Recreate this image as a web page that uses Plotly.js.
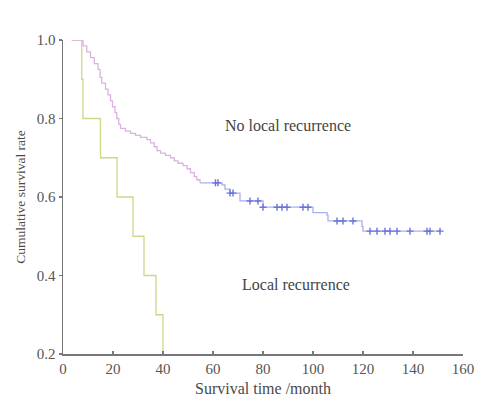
<!DOCTYPE html>
<html>
<head>
<meta charset="utf-8">
<script src="https://cdn.plot.ly/plotly-3.0.1.min.js"></script>
<style>html,body{margin:0;padding:0;background:#fff;}#chart{width:496px;height:408px;}</style>
</head>
<body>
<div id="chart"></div>
<script>
// Local recurrence group (step points)
const localT = [3.5, 7.5, 8, 15, 21.6, 28, 32.4, 37.2, 40];
const localS = [1.0, 0.9, 0.8, 0.7, 0.6, 0.5, 0.4, 0.3, 0.2];

// No local recurrence group, early (pink) part
const noLocT1 = [3.5, 8, 9.5, 11, 12.5, 14, 14.8, 15.5, 17, 18, 19, 19.8, 20.8, 21.5, 22.3, 23, 25, 27, 29, 31, 33.6, 35, 36.5, 37.6, 39, 41, 43, 44.5, 46, 48, 49.6, 51, 52.5, 53.5, 54.8];
const noLocS1 = [1.0, 0.985, 0.97, 0.955, 0.94, 0.925, 0.905, 0.89, 0.875, 0.86, 0.845, 0.83, 0.815, 0.80, 0.785, 0.775, 0.768, 0.762, 0.757, 0.752, 0.746, 0.738, 0.728, 0.718, 0.712, 0.706, 0.70, 0.692, 0.686, 0.68, 0.672, 0.662, 0.652, 0.644, 0.636];
// later (blue) part
const noLocT2 = [54.8, 63.6, 64.8, 66.8, 70.8, 80, 100, 105.6, 106, 119.6, 120, 150.8];
const noLocS2 = [0.636, 0.631, 0.620, 0.610, 0.590, 0.574, 0.560, 0.554, 0.539, 0.525, 0.513, 0.513];

// censored observations
const censT = [61, 62, 66.8, 68, 74.8, 78, 80, 85.6, 87.6, 89.6, 96, 98, 109.6, 112, 116, 122.8, 125.6, 128.8, 130.8, 133.6, 138.8, 145.6, 146.8, 150.8];
const censS = [0.636, 0.636, 0.610, 0.610, 0.590, 0.590, 0.574, 0.574, 0.574, 0.574, 0.574, 0.574, 0.539, 0.539, 0.539, 0.513, 0.513, 0.513, 0.513, 0.513, 0.513, 0.513, 0.513, 0.513];

const xTicks = [0, 20, 40, 60, 80, 100, 120, 140, 160];
const yTicks = [0.2, 0.4, 0.6, 0.8, 1.0];
const yTickText = ['0.2', '0.4', '0.6', '0.8', '1.0'];

const serif = 'Liberation Serif, Times New Roman, serif';

const traces = [
  {x: localT, y: localS, mode: 'lines', line: {shape: 'hv', color: '#c9d98c', width: 1.3}, hoverinfo: 'skip', cliponaxis: false},
  {x: noLocT1, y: noLocS1, mode: 'lines', line: {shape: 'hv', color: '#dbb2e2', width: 1.3}, hoverinfo: 'skip', cliponaxis: false},
  {x: noLocT2, y: noLocS2, mode: 'lines', line: {shape: 'hv', color: '#aab0ec', width: 1.3}, hoverinfo: 'skip', cliponaxis: false},
  {x: censT, y: censS, mode: 'markers', marker: {symbol: 'cross-thin', size: 5, line: {color: '#6a74d6', width: 1.4}}, hoverinfo: 'skip', cliponaxis: false}
];

const layout = {
  width: 496, height: 408,
  margin: {l: 63, r: 33, t: 40, b: 54},
  paper_bgcolor: '#ffffff', plot_bgcolor: '#ffffff',
  showlegend: false,
  font: {family: serif, color: '#555', size: 15},
  xaxis: {
    range: [0, 160], tickvals: xTicks, ticktext: xTicks.map(String),
    showgrid: false, zeroline: false, showline: true, linecolor: '#777', linewidth: 1.5,
    ticks: 'inside', ticklen: 3, tickcolor: '#777', tickwidth: 1.5,
    tickfont: {family: serif, size: 15, color: '#555'},
    title: {text: 'Survival time /month', font: {family: serif, size: 16, color: '#4a4a4a'}, standoff: 7}
  },
  yaxis: {
    range: [0.2, 1.0], tickvals: yTicks, ticktext: yTickText,
    showgrid: false, zeroline: false, showline: true, linecolor: '#777', linewidth: 1.5,
    ticks: 'outside', ticklen: 3, tickcolor: '#777', tickwidth: 1.5,
    tickfont: {family: serif, size: 15, color: '#555'},
    title: {text: 'Cumulative survival rate', font: {family: serif, size: 13.5, color: '#4a4a4a'}, standoff: 8}
  },
  annotations: [
    {x: 90, y: 0.8, xref: 'x', yref: 'y', text: 'No local recurrence', showarrow: false, xanchor: 'center', font: {family: serif, size: 16, color: '#444'}, yshift: -7},
    {x: 93, y: 0.4, xref: 'x', yref: 'y', text: 'Local recurrence', showarrow: false, xanchor: 'center', font: {family: serif, size: 16, color: '#444'}, yshift: -9}
  ]
};

Plotly.newPlot('chart', traces, layout, {displayModeBar: false, staticPlot: true});
</script>
</body>
</html>
